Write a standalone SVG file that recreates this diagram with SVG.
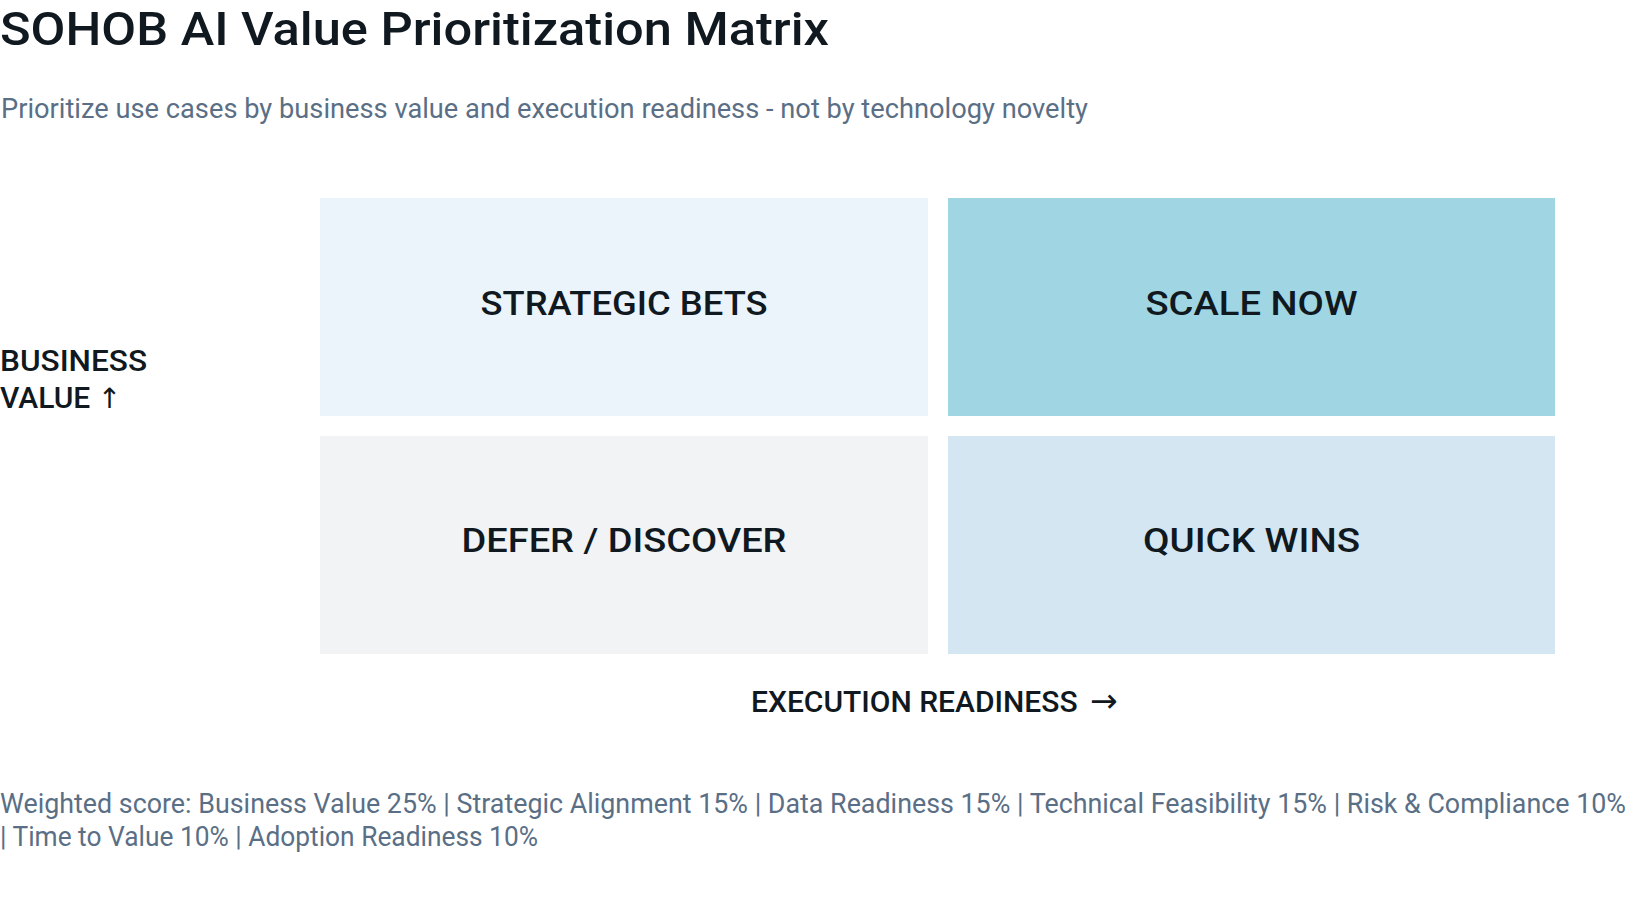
<svg xmlns="http://www.w3.org/2000/svg" width="1636" height="912" viewBox="0 0 1636 912">
<style>
.t{font-family:Roboto,"Liberation Sans",sans-serif;}
.title{font-size:47px;font-weight:500;fill:#101820;}
.sub{font-size:27px;font-weight:400;fill:#5a6f86;}
.axis{font-size:30px;font-weight:500;fill:#101820;}
.q{font-size:34px;font-weight:500;fill:#101820;text-anchor:middle;}
.foot{font-size:27px;font-weight:400;fill:#5a6f86;}
.arr{font-family:"DejaVu Sans",sans-serif;font-weight:400;}
</style>
<rect width="1636" height="912" fill="#ffffff"/>
<text class="t title" x="0" y="45" textLength="829" lengthAdjust="spacingAndGlyphs">SOHOB AI Value Prioritization Matrix</text>
<text class="t sub" x="1" y="118" textLength="1087" lengthAdjust="spacingAndGlyphs">Prioritize use cases by business value and execution readiness - not by technology novelty</text>
<g id="axis-y">
<text class="t axis" x="0" y="371" textLength="147" lengthAdjust="spacingAndGlyphs">BUSINESS</text>
<text class="t axis" x="0" y="408">VALUE <tspan class="arr" font-size="28">↑</tspan></text>
</g>
<g id="strategic-bets">
<rect x="320" y="198" width="608" height="218" fill="#ecf4fb"/>
<text class="t q" x="624" y="315" textLength="287" lengthAdjust="spacingAndGlyphs">STRATEGIC BETS</text>
</g>
<g id="scale-now">
<rect x="948" y="198" width="607" height="218" fill="#a0d6e4"/>
<text class="t q" x="1251.5" y="315" textLength="212" lengthAdjust="spacingAndGlyphs">SCALE NOW</text>
</g>
<g id="defer-discover">
<rect x="320" y="436" width="608" height="218" fill="#f1f3f5"/>
<text class="t q" x="624" y="552" textLength="325" lengthAdjust="spacingAndGlyphs">DEFER / DISCOVER</text>
</g>
<g id="quick-wins">
<rect x="948" y="436" width="607" height="218" fill="#d5e6f3"/>
<text class="t q" x="1251.5" y="552" textLength="217" lengthAdjust="spacingAndGlyphs">QUICK WINS</text>
</g>
<g id="connectors"></g>
<g id="axis-x">
<text class="t axis" x="751" y="712" font-size="29">EXECUTION READINESS <tspan class="arr" font-size="33" dx="5">→</tspan></text>
</g>
<g id="footer">
<text class="t foot" x="0" y="813" textLength="1626" lengthAdjust="spacingAndGlyphs">Weighted score: Business Value 25% | Strategic Alignment 15% | Data Readiness 15% | Technical Feasibility 15% | Risk &amp; Compliance 10%</text>
<text class="t foot" x="0" y="846" textLength="538" lengthAdjust="spacingAndGlyphs">| Time to Value 10% | Adoption Readiness 10%</text>
</g>
</svg>
